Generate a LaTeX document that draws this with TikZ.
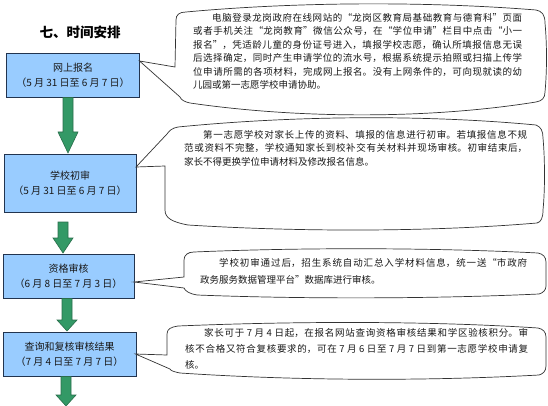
\documentclass[tikz,border=0pt]{standalone}
\usepackage{fontspec}
\setmainfont{Noto Sans CJK SC}
\XeTeXlinebreaklocale "zh"
\XeTeXlinebreakskip=0pt plus 2pt
\definecolor{boxfill}{HTML}{99CCFF}
\definecolor{boxline}{HTML}{22344F}
\definecolor{arrowfill}{HTML}{339966}
\definecolor{arrowline}{HTML}{2A6E4C}
\definecolor{callline}{HTML}{333333}
\begin{document}
\begin{tikzpicture}[x=1pt,y=-1pt,
  stage/.style={draw=boxline, line width=0.8pt, fill=boxfill, align=center,
    inner sep=0pt, font=\fontsize{10}{15}\selectfont, text=black!90},
  garrow/.style={fill=arrowfill, draw=arrowline, line width=0.6pt},
  callout/.style={draw=callline, line width=0.7pt, fill=white},
  ctext/.style={anchor=base west, inner sep=0pt, align=justify, text=black!90}]
\useasboundingbox (0,0) rectangle (548,406);

\node[font=\bfseries\fontsize{13.5}{16}\selectfont] (title) at (80,32) {七、时间安排};

% stage boxes
\node[stage, minimum width=133pt, minimum height=44pt] (b1) at (73,75) {网上报名\\（5 月 31 日至 6 月 7 日）};
\node[stage, minimum width=132pt, minimum height=58pt] (b2) at (70,183) {学校初审\\（5 月 31 日至 6 月 7 日）};
\node[stage, minimum width=131pt, minimum height=44pt] (b3) at (68.5,276) {资格审核\\（6 月 8 日至 7 月 3 日）};
\node[stage, minimum width=133pt, minimum height=44pt] (b4) at (69.5,354) {查询和复核审核结果\\（7 月 4 日至 7 月 7 日）};

% block arrows
\newcommand\greenarrow[4]{%
  \filldraw[garrow] (#1-5,#2) -- (#1-5,#3) -- (#1-10,#3) -- (#1,#4) -- (#1+10,#3)
    -- (#1+5,#3) -- (#1+5,#2) -- cycle;}
\greenarrow{68}{97.5}{132}{153}
\greenarrow{63}{222}{238}{253}
\greenarrow{67}{298.5}{320}{331}
\greenarrow{66}{376.5}{395}{406}

% callout tips
\coordinate (t1) at (139.5,61);
\coordinate (t2) at (136,167);
\coordinate (t3) at (134,282);
\coordinate (t4) at (135.5,354);

% callout 1
\draw[callout] (t1) -- (175,67) -- (176,20) .. controls (176,15) and (179,12) .. (186,12)
  .. controls (300,1.5) and (430,1.5) .. (536,10)
  .. controls (542,11) and (545,15) .. (545,23)
  .. controls (547,45) and (547,70) .. (545,92)
  .. controls (545,98) and (542,101) .. (536,102)
  .. controls (430,119) and (300,119) .. (190,103)
  .. controls (185,102) and (181,100) .. (180,97) -- cycle;
% callout 2
\draw[callout] (t2) -- (167,134) .. controls (169,131) and (172,128) .. (178,127)
  .. controls (300,115) and (430,115) .. (536,125)
  .. controls (541,127) and (543,131) .. (543,138)
  .. controls (545,160) and (545,190) .. (543,210)
  .. controls (543,218) and (541,222) .. (537,223)
  .. controls (430,232) and (300,232) .. (188,225)
  .. controls (172,222) and (165,218) .. (165,210) -- (165,166) -- cycle;
% callout 3
\draw[callout] (t3) -- (184,277) -- (184,260) .. controls (184,255) and (188,252) .. (194,252)
  .. controls (300,247.5) and (430,247.5) .. (538,253)
  .. controls (543,254) and (546,257) .. (546,262)
  -- (546,286) .. controls (546,290) and (543,293) .. (539,294)
  .. controls (430,299) and (300,299) .. (197,295)
  .. controls (190,294) and (185,291) .. (184,288) -- cycle;
% callout 4
\draw[callout] (t4) -- (167,355) -- (167,334) .. controls (167,329) and (171,327) .. (178,326)
  .. controls (300,321) and (430,321) .. (538,328)
  .. controls (543,329) and (546,332) .. (546,337)
  -- (546,366) .. controls (546,371) and (543,374) .. (539,375)
  .. controls (430,381) and (300,381) .. (180,373)
  .. controls (175,372) and (171,371) .. (170,369) -- cycle;

% callout texts
\node[ctext, text width=329pt, font=\fontsize{9.5}{13.5}\selectfont] (c1) at (193,21.5)
  {\hspace*{2em}电脑登录龙岗政府在线网站的“龙岗区教育局基础教育与德育科”页面\linebreak
   或者手机关注“龙岗教育”微信公众号，在“学位申请”栏目中点击“小一\linebreak
   报名”，凭适龄儿童的身份证号进入，填报学校志愿，确认所填报信息无误\linebreak
   后选择确定，同时产生申请学位的流水号，根据系统提示拍照或扫描上传学\linebreak
   位申请所需的各项材料，完成网上报名。没有上网条件的，可向现就读的幼\linebreak
   儿园或第一志愿学校申请协助。};
\node[ctext, text width=343pt, font=\fontsize{9.5}{13.5}\selectfont] (c2) at (184,138.5)
  {\hspace*{2em}第一志愿学校对家长上传的资料、填报的信息进行初审。若填报信息不规\linebreak
   范或资料不完整，学校通知家长到校补交有关材料并现场审核。初审结束后，\linebreak
   家长不得更换学位申请材料及修改报名信息。};
\node[ctext, text width=327pt, font=\fontsize{9.5}{16.7}\selectfont] (c3) at (200,266.5)
  {\hspace*{2em}学校初审通过后，招生系统自动汇总入学材料信息，统一送“市政府\linebreak
   政务服务数据管理平台”数据库进行审核。};
\node[ctext, text width=343pt, font=\fontsize{9.5}{16}\selectfont] (c4) at (185,336.5)
  {\hspace*{2em}家长可于 7 月 4 日起，在报名网站查询资格审核结果和学区验核积分。审\linebreak
   核不合格又符合复核要求的，可在 7 月 6 日至 7 月 7 日到第一志愿学校申请复\linebreak
   核。};
\end{tikzpicture}
\end{document}
